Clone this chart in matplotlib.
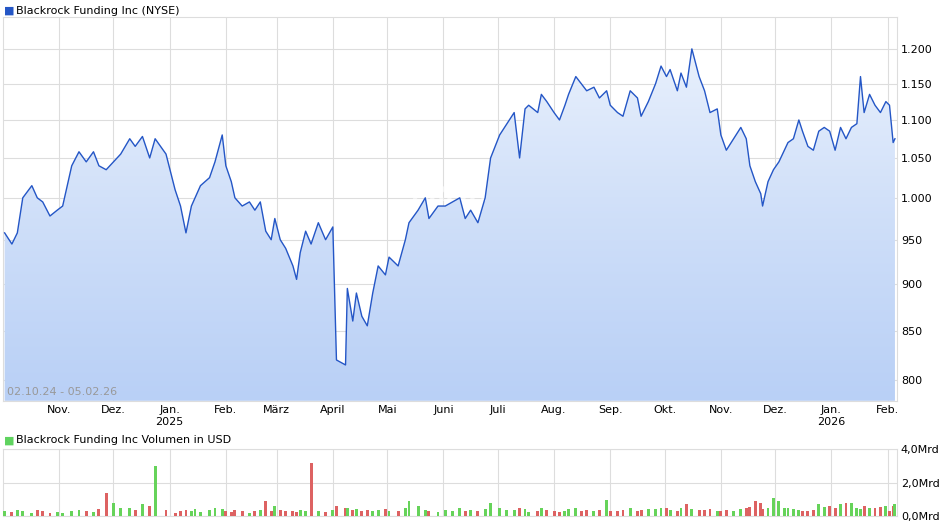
import numpy as np
import pandas as pd
import matplotlib.pyplot as plt
import matplotlib.ticker as mticker

start = pd.Timestamp('2024-10-02')
days = [0, 4, 7, 10, 15, 18, 21, 25, 29, 32, 37, 41, 45, 49, 52, 56, 60, 64, 69, 72,
        76, 80, 83, 89, 94, 97, 100, 103, 105, 108, 113, 116, 120, 122, 125, 127, 131, 135, 138, 141,
        144, 147, 149, 152, 155, 159, 161, 163, 166, 169, 173, 177, 181, 183, 188, 189, 192, 194, 197, 200,
        203, 206, 210, 212, 217, 221, 223, 228, 232, 234, 239, 243, 247, 251, 254, 257, 261, 265, 268, 273,
        277, 281, 284, 287, 289, 294, 296, 299, 303, 306, 309, 311, 315, 318, 321, 325, 328, 332, 334, 338,
        341, 345, 349, 351, 355, 359, 362, 365, 367, 371, 373, 376, 379, 383, 386, 389, 393, 395, 398, 402,
        406, 409, 411, 414, 417, 418, 421, 424, 427, 430, 432, 435, 438, 440, 443, 446, 449, 452, 455, 458,
        461, 464, 467, 470, 472, 474, 477, 480, 483, 486, 488, 490, 491]
price = [958, 945, 958, 1000, 1015, 1000, 995, 978, 985, 990, 1040, 1058, 1045, 1058, 1040, 1035, 1045, 1055, 1075, 1065,
         1078, 1050, 1075, 1055, 1010, 990, 958, 990, 1000, 1015, 1025, 1045, 1080, 1040, 1020, 1000, 990, 995, 985, 995,
         960, 950, 975, 950, 940, 920, 905, 935, 960, 945, 970, 950, 965, 820, 815, 895, 860, 890, 865, 855,
         890, 920, 910, 930, 920, 950, 970, 985, 1000, 975, 990, 990, 995, 1000, 975, 985, 970, 1000, 1050, 1080,
         1095, 1110, 1050, 1115, 1120, 1110, 1135, 1125, 1110, 1100, 1120, 1135, 1160, 1150, 1140, 1145, 1130, 1140, 1120, 1110,
         1105, 1140, 1130, 1105, 1125, 1150, 1175, 1160, 1170, 1140, 1165, 1145, 1200, 1160, 1140, 1110, 1115, 1080, 1060, 1075,
         1090, 1075, 1040, 1020, 1005, 990, 1020, 1035, 1045, 1060, 1070, 1075, 1100, 1085, 1065, 1060, 1085, 1090, 1085, 1060,
         1090, 1075, 1090, 1095, 1160, 1110, 1135, 1120, 1110, 1125, 1120, 1070, 1075]
volume = [0.3, 0.25, 0.35, 0.3, 0.2, 0.35, 0.3, 0.2, 0.25, 0.2, 0.3, 0.35, 0.3, 0.25, 0.4, 1.4, 0.8, 0.45, 0.5, 0.35,
          0.7, 0.6, 3.0, 0.35, 0.2, 0.3, 0.35, 0.3, 0.4, 0.25, 0.35, 0.45, 0.4, 0.3, 0.25, 0.35, 0.3, 0.2, 0.3, 0.35,
          0.9, 0.3, 0.6, 0.35, 0.3, 0.3, 0.25, 0.35, 0.3, 3.15, 0.3, 0.25, 0.35, 0.6, 0.45, 0.5, 0.35, 0.4, 0.3, 0.35,
          0.3, 0.35, 0.4, 0.3, 0.3, 0.45, 0.9, 0.6, 0.35, 0.3, 0.25, 0.35, 0.3, 0.45, 0.3, 0.35, 0.3, 0.4, 0.75, 0.45,
          0.35, 0.35, 0.45, 0.4, 0.25, 0.3, 0.5, 0.35, 0.3, 0.25, 0.3, 0.4, 0.45, 0.3, 0.35, 0.3, 0.35, 0.95, 0.3, 0.3,
          0.35, 0.45, 0.3, 0.35, 0.4, 0.4, 0.45, 0.5, 0.35, 0.3, 0.45, 0.7, 0.4, 0.35, 0.35, 0.4, 0.3, 0.3, 0.35, 0.3,
          0.4, 0.5, 0.55, 0.9, 0.8, 0.4, 0.5, 1.1, 0.9, 0.5, 0.45, 0.4, 0.35, 0.3, 0.3, 0.35, 0.7, 0.55, 0.6, 0.5,
          0.7, 0.75, 0.8, 0.5, 0.4, 0.6, 0.45, 0.5, 0.55, 0.6, 0.3, 0.6, 0.7]
month_starts = ['2024-11-01', '2024-12-01', '2025-01-01', '2025-02-01', '2025-03-01', '2025-04-01', '2025-05-01',
                '2025-06-01', '2025-07-01', '2025-08-01', '2025-09-01', '2025-10-01', '2025-11-01', '2025-12-01',
                '2026-01-01', '2026-02-01']
month_labels = ['Nov.', 'Dez.', 'Jan.\n2025', 'Feb.', 'März', 'April', 'Mai', 'Juni', 'Juli', 'Aug.', 'Sep.',
                'Okt.', 'Nov.', 'Dez.', 'Jan.\n2026', 'Feb.']
y_ticks = [800, 850, 900, 950, 1000, 1050, 1100, 1150, 1200]

dates = start + pd.to_timedelta(days, unit='D')
ticks = pd.to_datetime(month_starts)
x0, x1 = start - pd.Timedelta(days=1), pd.Timestamp('2026-02-06')
grid_c = '#dddddd'

fig = plt.figure(figsize=(9.4, 5.26), dpi=100)
ax = fig.add_axes([0.003, 0.238, 0.951, 0.730])
ax.set_yscale('log')
ylo, yhi = 780, 1248
ax.set_ylim(ylo, yhi)
ax.set_xlim(x0, x1)

# gradient fill under the line
grad = np.linspace(0, 1, 256).reshape(-1, 1)
cmap = plt.matplotlib.colors.LinearSegmentedColormap.from_list('g', ['#b9d0f6', '#eef4fd'])
im = ax.imshow(grad, aspect='auto', cmap=cmap, origin='lower',
               extent=[plt.matplotlib.dates.date2num(x0), plt.matplotlib.dates.date2num(x1), ylo, yhi], zorder=1)
poly = ax.fill_between(dates, price, ylo, color='none')
im.set_clip_path(poly.get_paths()[0], transform=ax.transData)
ax.plot(dates, price, color='#2456c6', lw=1.0, zorder=3)

ax.set_xticks(ticks)
ax.set_xticklabels(month_labels, fontsize=8)
ax.set_yticks(y_ticks)
ax.yaxis.set_major_formatter(mticker.FuncFormatter(lambda v, p: f'{v/1000:.3f}'.replace('.', '.') if v >= 1000 else f'{v:.0f}'))
ax.yaxis.set_minor_locator(mticker.NullLocator())
ax.yaxis.tick_right()
ax.tick_params(axis='both', length=0, labelsize=8, pad=3)
ax.grid(True, color=grid_c, lw=0.8, zorder=0)
ax.set_axisbelow(True)
for s in ax.spines.values():
    s.set_color(grid_c)
ax.text(0.005, 0.015, '02.10.24 - 05.02.26', transform=ax.transAxes, fontsize=8, color='#999999', zorder=4)
ax.text(0.5, 0.52, 'ARIVA', transform=ax.transAxes, fontsize=16, color='white', alpha=0.6,
        fontweight='bold', fontstyle='italic', ha='center', zorder=2)

fig.text(0.004, 0.98, '■', color='#2456c6', fontsize=8, va='center')
fig.text(0.017, 0.98, 'Blackrock Funding Inc (NYSE)', fontsize=8, va='center')
fig.text(0.004, 0.163, '■', color='#5fd35f', fontsize=8, va='center')
fig.text(0.017, 0.163, 'Blackrock Funding Inc Volumen in USD', fontsize=8, va='center')

vax = fig.add_axes([0.003, 0.019, 0.951, 0.127])
up = np.diff([price[0]] + price) >= 0
colors = ['#66d35a' if u else '#dd6262' for u in up]
vax.bar(dates, volume, width=1.6, color=colors, zorder=3)
vax.set_xlim(x0, x1)
vax.set_ylim(0, 4.0)
vax.set_xticks(ticks)
vax.set_xticklabels([])
vax.set_yticks([0, 2, 4])
vax.set_yticklabels(['0,0Mrd', '2,0Mrd', '4,0Mrd'])
vax.yaxis.tick_right()
vax.tick_params(axis='both', length=0, labelsize=8, pad=3)
vax.grid(True, color=grid_c, lw=0.8, zorder=0)
for s in vax.spines.values():
    s.set_color(grid_c)

fig.savefig('out.png', dpi=100)
